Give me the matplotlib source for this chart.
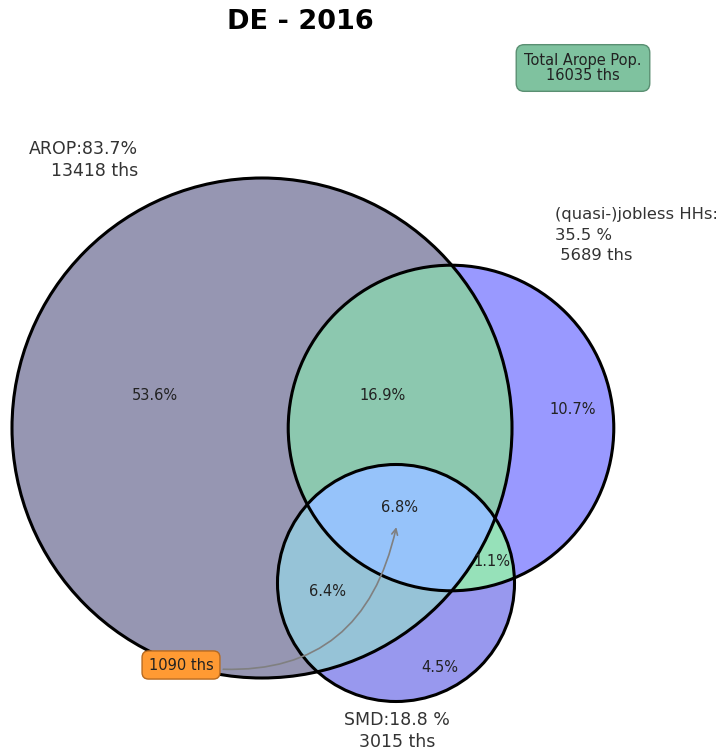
import numpy as np
import matplotlib
matplotlib.use("Agg")
import matplotlib.pyplot as plt
from matplotlib.patches import Circle, Polygon

# set sizes (thousands) and shares
sets = ['AROP', 'jobless', 'SMD']
set_ths = [13418, 5689, 3015]
set_pct = [83.7, 35.5, 18.8]
total_ths = 16035
arrow_ths = 1090

# region shares in %
region_names = ['A', 'AJ', 'J', 'AJS', 'AS', 'JS', 'S']
region_pct = [53.6, 16.9, 10.7, 6.8, 6.4, 1.1, 4.5]

# layout (pixel-like units, y down)
centers = [(262, 428), (451, 428), (396, 583)]
scale = 250 / np.sqrt(set_ths[0])
radii = [scale * np.sqrt(v) for v in set_ths]

label_pos = {'A': (155, 395), 'AJ': (383, 395), 'J': (573, 410), 'AJS': (400, 508),
             'AS': (328, 591), 'JS': (492, 561), 'S': (440, 667)}

col_only = {'A': '#9696b2', 'J': '#9999ff', 'S': '#9898ee'}
col_AJ = '#8cc8af'
col_AS = '#96c3d7'
col_JS = '#96e1b9'
col_AJS = '#96c3fa'

fig = plt.figure(figsize=(7.2, 7.54), dpi=100)
ax = fig.add_axes([0, 0, 1, 1])
ax.set_xlim(0, 720)
ax.set_ylim(754, 0)
ax.axis('off')


def circ(i, **kw):
    return Circle(centers[i], radii[i], **kw)


# single set fills
for i, k in enumerate(['A', 'J', 'S']):
    ax.add_patch(circ(i, facecolor=col_only[k], edgecolor='none', zorder=1))

# pairwise overlaps via clipping
for (i, j, c) in [(1, 0, col_AJ), (2, 0, col_AS), (2, 1, col_JS)]:
    p = circ(i, facecolor=c, edgecolor='none', zorder=2)
    ax.add_patch(p)
    clip = circ(j, transform=ax.transData)
    p.set_clip_path(clip)

# triple overlap as convex polygon
t = np.linspace(0, 2 * np.pi, 2000)
pts = []
for i in range(3):
    xs = centers[i][0] + radii[i] * np.cos(t)
    ys = centers[i][1] + radii[i] * np.sin(t)
    inside = np.ones_like(xs, dtype=bool)
    for j in range(3):
        if j != i:
            inside &= (xs - centers[j][0]) ** 2 + (ys - centers[j][1]) ** 2 <= radii[j] ** 2 + 1e-6
    pts.append(np.column_stack([xs[inside], ys[inside]]))
pts = np.vstack(pts)
cx, cy = pts.mean(axis=0)
order = np.argsort(np.arctan2(pts[:, 1] - cy, pts[:, 0] - cx))
ax.add_patch(Polygon(pts[order], closed=True, facecolor=col_AJS, edgecolor='none', zorder=3))

# outlines
for i in range(3):
    ax.add_patch(circ(i, facecolor='none', edgecolor='black', linewidth=2.2, zorder=4))

# region labels
for name, pct in zip(region_names, region_pct):
    x, y = label_pos[name]
    ax.text(x, y, f'{pct}%', ha='center', va='center', fontsize=10.5, color='#222222', zorder=5)

# set labels
ax.text(138, 160, f'AROP:{set_pct[0]}%\n{set_ths[0]} ths', ha='right', va='center',
        fontsize=12.5, color='#333333', linespacing=1.25)
ax.text(555, 235, f'(quasi-)jobless HHs:\n{set_pct[1]} %\n {set_ths[1]} ths', ha='left', va='center',
        fontsize=11.8, color='#333333', linespacing=1.5)
ax.text(397, 731, f'SMD:{set_pct[2]} %\n{set_ths[2]} ths', ha='center', va='center',
        fontsize=12.5, color='#333333', linespacing=1.25)

ax.text(300, 22, 'DE - 2016', ha='center', va='center', fontsize=19.5, fontweight='bold')

ax.text(583, 68, f'Total Arope Pop.\n{total_ths} ths', ha='center', va='center', fontsize=10.5,
        color='#222222', linespacing=1.05,
        bbox=dict(boxstyle='round,pad=0.55', facecolor='#7fc29f', edgecolor='#5a8f72'))

ax.annotate(f'{arrow_ths} ths', xy=label_pos['AJS'], xytext=(181, 665), ha='center', va='center',
            fontsize=10.5, color='#222222', zorder=6,
            bbox=dict(boxstyle='round,pad=0.45', facecolor='#ff9a33', edgecolor='#b86a1f'),
            arrowprops=dict(arrowstyle='->', connectionstyle='arc3,rad=0.5', color='gray',
                            shrinkB=14, lw=1.2))

fig.savefig('out.png', dpi=100)
